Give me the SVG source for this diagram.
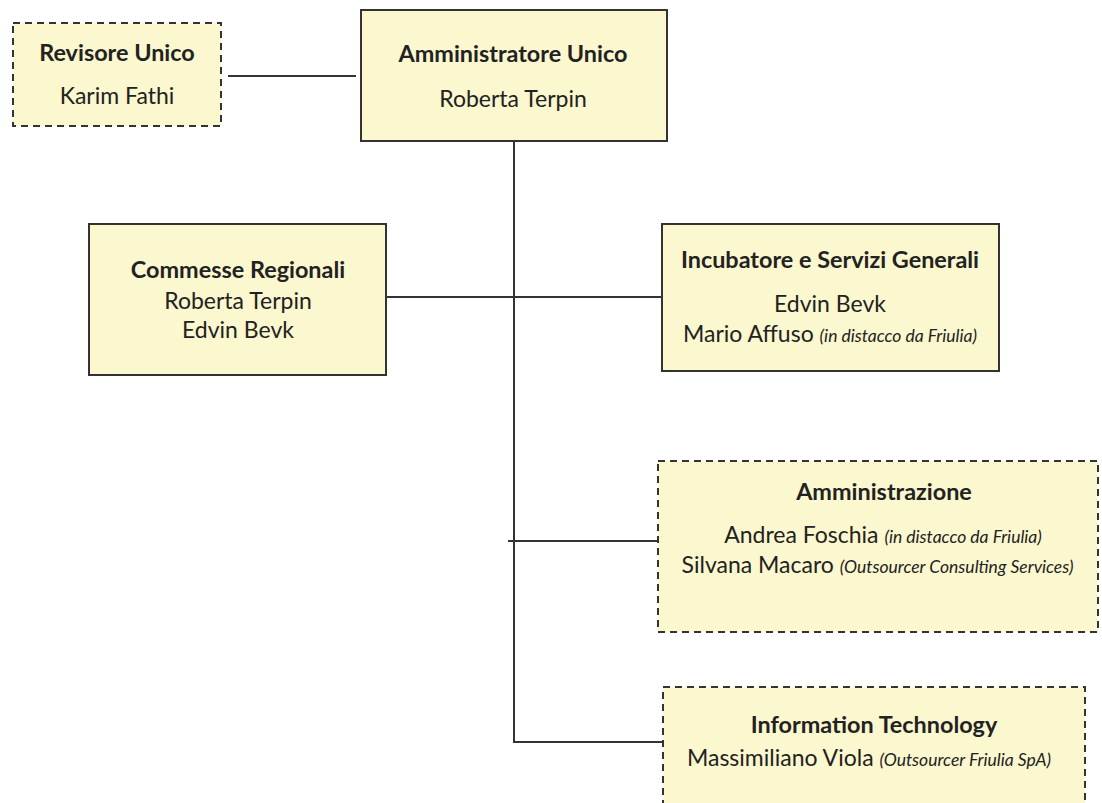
<svg xmlns="http://www.w3.org/2000/svg" width="1102" height="803" viewBox="0 0 1102 803">
<style>
.box{fill:#FBF7CE;stroke:#333;stroke-width:2}
.dash{fill:#FBF7CE;stroke:#333;stroke-width:2;stroke-dasharray:7 5}
.t{font-family:Lato,"Liberation Sans",sans-serif;font-size:23px;fill:#222;text-anchor:middle}
.b{font-weight:bold;font-size:23.4px}
.i{font-style:italic;font-size:17.5px}
.ln{stroke:#333;stroke-width:2;fill:none}
</style>
<rect width="1102" height="803" fill="#fff"/>
<g id="connectors">
<line class="ln" x1="228" y1="76" x2="356" y2="76"/>
<line class="ln" x1="514" y1="142" x2="514" y2="742"/>
<line class="ln" x1="384" y1="297" x2="662" y2="297"/>
<line class="ln" x1="508" y1="541" x2="658" y2="541"/>
<line class="ln" x1="513" y1="742" x2="663" y2="742"/>
</g>
<g id="revisore">
<rect class="dash" x="13" y="23" width="208" height="103"/>
<text class="t b" x="117" y="61">Revisore Unico</text>
<text class="t" x="117" y="104">Karim Fathi</text>
</g>
<g id="amministratore">
<rect class="box" x="361" y="10" width="306" height="131"/>
<text class="t b" x="513" y="62">Amministratore Unico</text>
<text class="t" x="513" y="107">Roberta Terpin</text>
</g>
<g id="commesse">
<rect class="box" x="89" y="224" width="297" height="151"/>
<text class="t b" x="238" y="278">Commesse Regionali</text>
<text class="t" x="238" y="309">Roberta Terpin</text>
<text class="t" x="238" y="338">Edvin Bevk</text>
</g>
<g id="incubatore">
<rect class="box" x="662" y="224" width="337" height="147"/>
<text class="t b" x="830" y="268">Incubatore e Servizi Generali</text>
<text class="t" x="830" y="312">Edvin Bevk</text>
<text class="t" x="830" y="342">Mario Affuso <tspan class="i">(in distacco da Friulia)</tspan></text>
</g>
<g id="amministrazione">
<rect class="dash" x="658" y="461" width="440" height="171"/>
<text class="t b" x="884" y="500">Amministrazione</text>
<text class="t" x="883" y="543">Andrea Foschia <tspan class="i">(in distacco da Friulia)</tspan></text>
<text class="t" x="877.5" y="573">Silvana Macaro <tspan class="i">(Outsourcer Consulting Services)</tspan></text>
</g>
<g id="it">
<rect class="dash" x="663" y="687" width="422" height="130"/>
<text class="t b" x="874" y="733">Information Technology</text>
<text class="t" x="869" y="766">Massimiliano Viola <tspan class="i">(Outsourcer Friulia SpA)</tspan></text>
</g>
</svg>
